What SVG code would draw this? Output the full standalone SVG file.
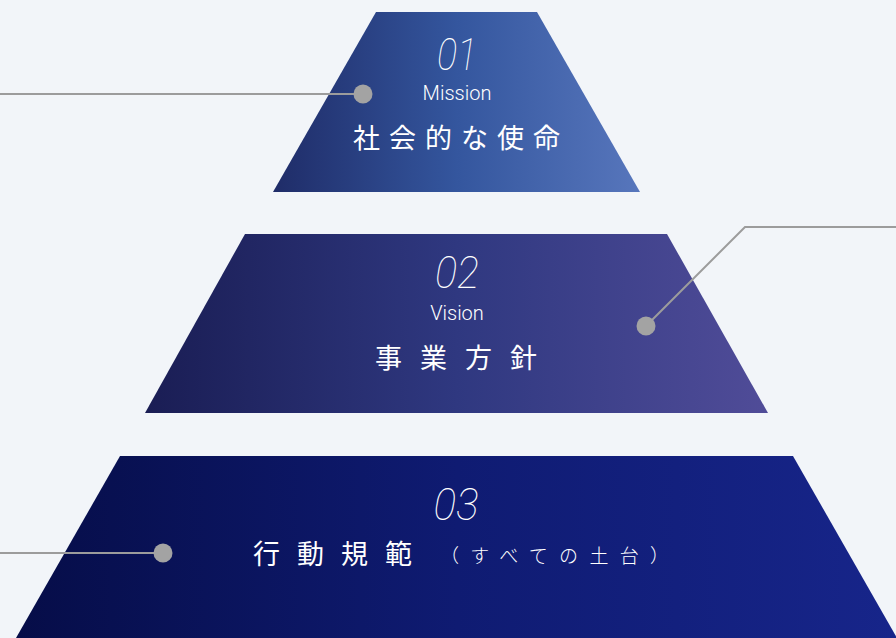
<svg xmlns="http://www.w3.org/2000/svg" width="896" height="638" viewBox="0 0 896 638">
<defs>
<linearGradient id="g1" x1="0" y1="0" x2="1" y2="0">
<stop offset="0" stop-color="#1f2c68"/><stop offset="0.5" stop-color="#34569e"/><stop offset="1" stop-color="#5776bc"/>
</linearGradient>
<linearGradient id="g2" x1="0" y1="0" x2="1" y2="0">
<stop offset="0" stop-color="#1a1d54"/><stop offset="0.5" stop-color="#2f3880"/><stop offset="1" stop-color="#504c98"/>
</linearGradient>
<linearGradient id="g3" x1="0" y1="0" x2="1" y2="0">
<stop offset="0" stop-color="#060d48"/><stop offset="0.5" stop-color="#0f1b72"/><stop offset="1" stop-color="#17258a"/>
</linearGradient>
<style>
.num{font-family:Roboto,"Liberation Sans",sans-serif;font-weight:100;font-style:italic;font-size:44px;fill:#ffffff;text-anchor:middle}
.en{font-family:Roboto,"Liberation Sans",sans-serif;font-weight:300;font-size:20px;fill:#ffffff;text-anchor:middle}
.jp{font-family:"Noto Sans CJK JP",sans-serif;font-weight:400;font-size:27px;fill:#ffffff}
.jps{font-family:"Noto Sans CJK JP",sans-serif;font-weight:300;font-size:19px;fill:#ffffff}
.ln{fill:none;stroke:#9c9c9c;stroke-width:2}
.dot{fill:#a3a3a3}
</style>
</defs>
<rect width="896" height="638" fill="#f2f5f9"/>
<g id="node-mission">
<polygon points="376,12 537,12 640,192 273,192" fill="url(#g1)"/>
<text class="num" x="457" y="70" textLength="40" lengthAdjust="spacingAndGlyphs">01</text>
<text class="en" x="457" y="100">Mission</text>
<text class="jp" x="353" y="148" letter-spacing="9">社会的な使命</text>
</g>
<g id="node-vision">
<polygon points="245,234 667,234 768,413 145,413" fill="url(#g2)"/>
<text class="num" x="457" y="288" textLength="44" lengthAdjust="spacingAndGlyphs">02</text>
<text class="en" x="457" y="320">Vision</text>
<text class="jp" x="375" y="368" font-size="28" letter-spacing="18">事業方針</text>
</g>
<g id="node-conduct">
<polygon points="120,456 793,456 897,638 16,638" fill="url(#g3)"/>
<text class="num" x="456" y="520" textLength="45" lengthAdjust="spacingAndGlyphs">03</text>
<text class="jp" x="253" y="564" font-size="28" letter-spacing="17">行動規範</text>
<text class="jps" x="440" y="563" letter-spacing="11.3">（すべての土台）</text>
</g>
<g id="connectors">
<polyline class="ln" points="0,94 363,94"/>
<circle class="dot" cx="363" cy="94" r="9.5"/>
<polyline class="ln" points="646,326 745,227 896,227"/>
<circle class="dot" cx="646" cy="326" r="9.5"/>
<polyline class="ln" points="0,553 163,553"/>
<circle class="dot" cx="163" cy="553" r="9.5"/>
</g>
</svg>
